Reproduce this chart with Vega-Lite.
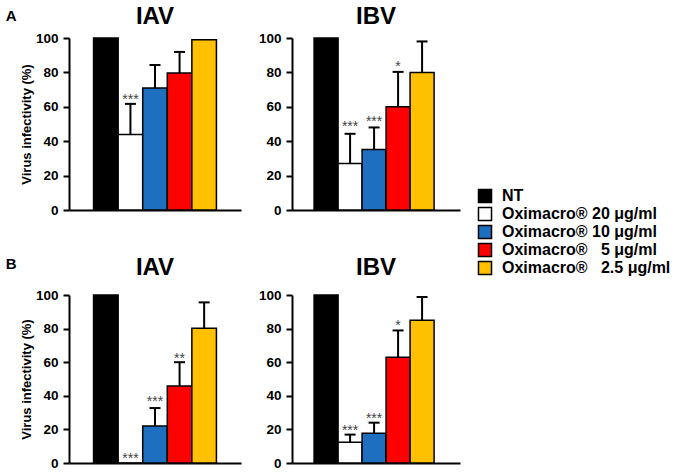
{
  "$schema": "https://vega.github.io/schema/vega-lite/v6.json",
  "padding": {"left": 5, "top": 5, "right": 5, "bottom": 5},
  "config": {
    "font": "Liberation Sans",
    "view": {"stroke": null},
    "concat": {"spacing": 17},
    "title": {"fontSize": 24, "fontWeight": "bold", "color": "black"},
    "axisY": {"values": [0, 20, 40, 60, 80, 100], "grid": false, "domainColor": "black", "domainWidth": 2, "tickColor": "black", "tickWidth": 2, "tickSize": 6, "labelPadding": 5, "labelFontWeight": "bold", "labelFontSize": 13.5, "labelColor": "black", "labelOverlap": false, "labelBound": false, "labelFlush": false, "titleFontWeight": "bold", "titleFontSize": 13, "titleColor": "black", "titlePadding": 2},
    "axisX": {"labels": false, "ticks": false, "title": null, "domainColor": "black", "domainWidth": 2, "grid": false}
  },
  "data": {
    "values": [
      {"panel": "A_IAV", "treatment": "NT", "value": 100},
      {"panel": "A_IAV", "treatment": "Oximacro\u00ae 20 \u03bcg/ml", "value": 43.9, "hi": 61.7, "star": "***", "starY": 66},
      {"panel": "A_IAV", "treatment": "Oximacro\u00ae 10 \u03bcg/ml", "value": 71, "hi": 84.3},
      {"panel": "A_IAV", "treatment": "Oximacro\u00ae\u00a0\u00a0\u00a05 \u03bcg/ml", "value": 79.7, "hi": 91.9},
      {"panel": "A_IAV", "treatment": "Oximacro\u00ae\u00a0\u00a0\u00a02.5 \u03bcg/ml", "value": 99},
      {"panel": "A_IBV", "treatment": "NT", "value": 100},
      {"panel": "A_IBV", "treatment": "Oximacro\u00ae 20 \u03bcg/ml", "value": 27.1, "hi": 44.3, "star": "***", "starY": 50.3},
      {"panel": "A_IBV", "treatment": "Oximacro\u00ae 10 \u03bcg/ml", "value": 35.2, "hi": 48, "star": "***", "starY": 53.6},
      {"panel": "A_IBV", "treatment": "Oximacro\u00ae\u00a0\u00a0\u00a05 \u03bcg/ml", "value": 60, "hi": 80.3, "star": "*", "starY": 85.4},
      {"panel": "A_IBV", "treatment": "Oximacro\u00ae\u00a0\u00a0\u00a02.5 \u03bcg/ml", "value": 80, "hi": 98},
      {"panel": "B_IAV", "treatment": "NT", "value": 100},
      {"panel": "B_IAV", "treatment": "Oximacro\u00ae 20 \u03bcg/ml", "value": 0, "star": "***", "starY": 5},
      {"panel": "B_IAV", "treatment": "Oximacro\u00ae 10 \u03bcg/ml", "value": 22, "hi": 32.7, "star": "***", "starY": 38.7},
      {"panel": "B_IAV", "treatment": "Oximacro\u00ae\u00a0\u00a0\u00a05 \u03bcg/ml", "value": 45.8, "hi": 60, "star": "**", "starY": 64.5},
      {"panel": "B_IAV", "treatment": "Oximacro\u00ae\u00a0\u00a0\u00a02.5 \u03bcg/ml", "value": 80.2, "hi": 95.6},
      {"panel": "B_IBV", "treatment": "NT", "value": 100},
      {"panel": "B_IBV", "treatment": "Oximacro\u00ae 20 \u03bcg/ml", "value": 12.4, "hi": 16.9, "star": "***", "starY": 21.6},
      {"panel": "B_IBV", "treatment": "Oximacro\u00ae 10 \u03bcg/ml", "value": 17.7, "hi": 24, "star": "***", "starY": 28.7},
      {"panel": "B_IBV", "treatment": "Oximacro\u00ae\u00a0\u00a0\u00a05 \u03bcg/ml", "value": 63, "hi": 78.9, "star": "*", "starY": 83.8},
      {"panel": "B_IBV", "treatment": "Oximacro\u00ae\u00a0\u00a0\u00a02.5 \u03bcg/ml", "value": 84.9, "hi": 98.8}
    ]
  },
  "vconcat": [
    {
      "title": {"text": "A", "orient": "left", "angle": 0, "anchor": "end", "frame": "bounds", "align": "left", "baseline": "top", "fontSize": 15, "offset": 4, "dy": 4},
      "hconcat": [
        {
          "width": 172, "height": 172,
          "title": {"text": "IAV", "offset": 2},
          "transform": [{"filter": "datum.panel === 'A_IAV'"}],
          "encoding": {"x": {"field": "treatment", "type": "nominal", "sort": null, "scale": {"paddingInner": 0, "paddingOuter": 1.145, "align": 0.5}}},
          "layer": [
            {"mark": {"type": "bar", "stroke": "black", "strokeWidth": 1.5},
             "encoding": {
               "y": {"field": "value", "type": "quantitative", "scale": {"domain": [0, 100]}, "axis": {"title": "Virus infectivity (%)"}},
               "color": {"field": "treatment", "type": "nominal", "sort": null,
                 "scale": {"range": ["#000000", "#ffffff", "#1e6fc0", "#ff0000", "#ffc000"]},
                 "legend": {"title": null, "orient": "none", "legendX": 408, "legendY": 150, "symbolType": "square", "symbolSize": 170, "symbolStrokeColor": "black", "symbolStrokeWidth": 1.5, "symbolOpacity": 1, "labelFontSize": 16, "labelFontWeight": "bold", "labelColor": "black", "labelLimit": 300, "rowPadding": -3, "labelOffset": 9}}
             }},
            {"transform": [{"filter": "isValid(datum.hi)"}], "mark": {"type": "rule", "color": "black", "strokeWidth": 2},
             "encoding": {"y": {"field": "value", "type": "quantitative"}, "y2": {"field": "hi"}}},
            {"transform": [{"filter": "isValid(datum.hi)"}], "mark": {"type": "tick", "color": "black", "thickness": 2, "size": 11, "opacity": 1},
             "encoding": {"y": {"field": "hi", "type": "quantitative"}}},
            {"transform": [{"filter": "isValid(datum.star)"}], "mark": {"type": "text", "color": "#444444", "fontSize": 14, "baseline": "alphabetic", "dy": 8},
             "encoding": {"y": {"field": "starY", "type": "quantitative"}, "text": {"field": "star"}}}
          ]
        },
        {
          "width": 168, "height": 172,
          "title": {"text": "IBV", "offset": 2},
          "transform": [{"filter": "datum.panel === 'A_IBV'"}],
          "encoding": {"x": {"field": "treatment", "type": "nominal", "sort": null, "scale": {"paddingInner": 0, "paddingOuter": 1.0, "align": 0.46}}},
          "layer": [
            {"mark": {"type": "bar", "stroke": "black", "strokeWidth": 1.5},
             "encoding": {
               "y": {"field": "value", "type": "quantitative", "scale": {"domain": [0, 100]}, "axis": {"title": null}},
               "color": {"field": "treatment", "type": "nominal", "sort": null}
             }},
            {"transform": [{"filter": "isValid(datum.hi)"}], "mark": {"type": "rule", "color": "black", "strokeWidth": 2},
             "encoding": {"y": {"field": "value", "type": "quantitative"}, "y2": {"field": "hi"}}},
            {"transform": [{"filter": "isValid(datum.hi)"}], "mark": {"type": "tick", "color": "black", "thickness": 2, "size": 11, "opacity": 1},
             "encoding": {"y": {"field": "hi", "type": "quantitative"}}},
            {"transform": [{"filter": "isValid(datum.star)"}], "mark": {"type": "text", "color": "#444444", "fontSize": 14, "baseline": "alphabetic", "dy": 8},
             "encoding": {"y": {"field": "starY", "type": "quantitative"}, "text": {"field": "star"}}}
          ]
        }
      ]
    },
    {
      "title": {"text": "B", "orient": "left", "angle": 0, "anchor": "end", "frame": "bounds", "align": "left", "baseline": "top", "fontSize": 15, "offset": 4, "dy": 1},
      "hconcat": [
        {
          "width": 172, "height": 168,
          "title": {"text": "IAV", "offset": 8},
          "transform": [{"filter": "datum.panel === 'B_IAV'"}],
          "encoding": {"x": {"field": "treatment", "type": "nominal", "sort": null, "scale": {"paddingInner": 0, "paddingOuter": 1.145, "align": 0.5}}},
          "layer": [
            {"mark": {"type": "bar", "stroke": "black", "strokeWidth": 1.5},
             "encoding": {
               "y": {"field": "value", "type": "quantitative", "scale": {"domain": [0, 100]}, "axis": {"title": "Virus infectivity (%)"}},
               "color": {"field": "treatment", "type": "nominal", "sort": null}
             }},
            {"transform": [{"filter": "isValid(datum.hi)"}], "mark": {"type": "rule", "color": "black", "strokeWidth": 2},
             "encoding": {"y": {"field": "value", "type": "quantitative"}, "y2": {"field": "hi"}}},
            {"transform": [{"filter": "isValid(datum.hi)"}], "mark": {"type": "tick", "color": "black", "thickness": 2, "size": 11, "opacity": 1},
             "encoding": {"y": {"field": "hi", "type": "quantitative"}}},
            {"transform": [{"filter": "isValid(datum.star)"}], "mark": {"type": "text", "color": "#444444", "fontSize": 14, "baseline": "alphabetic", "dy": 8},
             "encoding": {"y": {"field": "starY", "type": "quantitative"}, "text": {"field": "star"}}}
          ]
        },
        {
          "width": 168, "height": 168,
          "title": {"text": "IBV", "offset": 8},
          "transform": [{"filter": "datum.panel === 'B_IBV'"}],
          "encoding": {"x": {"field": "treatment", "type": "nominal", "sort": null, "scale": {"paddingInner": 0, "paddingOuter": 1.0, "align": 0.46}}},
          "layer": [
            {"mark": {"type": "bar", "stroke": "black", "strokeWidth": 1.5},
             "encoding": {
               "y": {"field": "value", "type": "quantitative", "scale": {"domain": [0, 100]}, "axis": {"title": null}},
               "color": {"field": "treatment", "type": "nominal", "sort": null}
             }},
            {"transform": [{"filter": "isValid(datum.hi)"}], "mark": {"type": "rule", "color": "black", "strokeWidth": 2},
             "encoding": {"y": {"field": "value", "type": "quantitative"}, "y2": {"field": "hi"}}},
            {"transform": [{"filter": "isValid(datum.hi)"}], "mark": {"type": "tick", "color": "black", "thickness": 2, "size": 11, "opacity": 1},
             "encoding": {"y": {"field": "hi", "type": "quantitative"}}},
            {"transform": [{"filter": "isValid(datum.star)"}], "mark": {"type": "text", "color": "#444444", "fontSize": 14, "baseline": "alphabetic", "dy": 8},
             "encoding": {"y": {"field": "starY", "type": "quantitative"}, "text": {"field": "star"}}}
          ]
        }
      ]
    }
  ],
  "spacing": 39
}
